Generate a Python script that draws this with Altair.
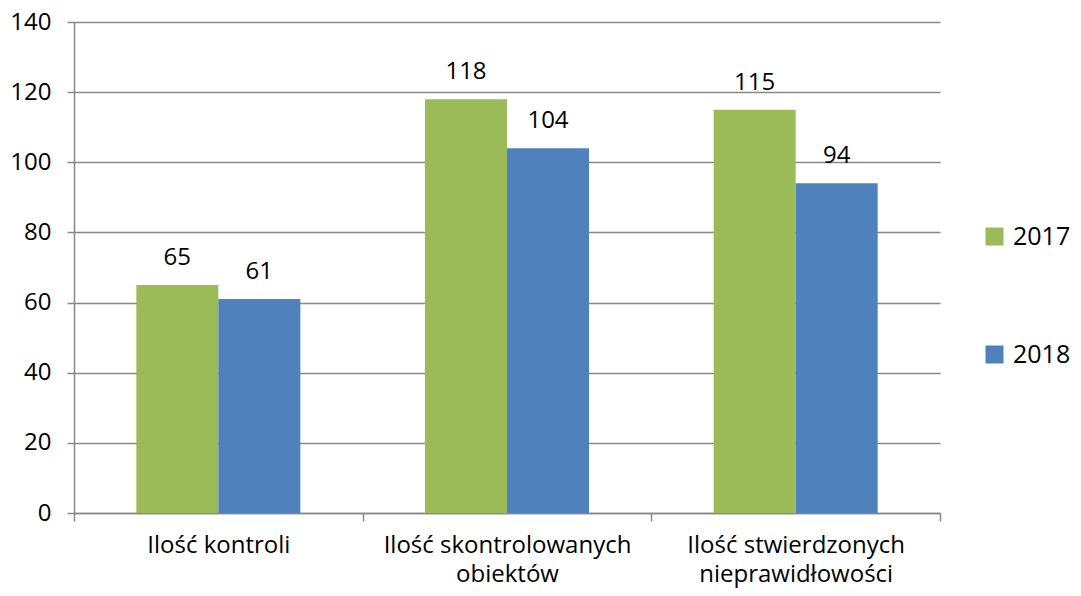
import altair as alt
import pandas as pd

categories = ["Ilość kontroli", "Ilość skontrolowanych obiektów", "Ilość stwierdzonych nieprawidłowości"]
label_lines = {
    "Ilość kontroli": ["Ilość kontroli"],
    "Ilość skontrolowanych obiektów": ["Ilość skontrolowanych", "obiektów"],
    "Ilość stwierdzonych nieprawidłowości": ["Ilość stwierdzonych", "nieprawidłowości"],
}
years = ["2017", "2018"]
values_2017 = [65, 118, 115]
values_2018 = [61, 104, 94]
colors = ["#9BBB59", "#4F81BD"]

rows = []
for c, a, b in zip(categories, values_2017, values_2018):
    rows.append({"cat": c, "year": "2017", "value": a})
    rows.append({"cat": c, "year": "2018", "value": b})
df = pd.DataFrame(rows)

label_expr = " : ".join(
    [f"datum.label == '{k}' ? {v!r}" for k, v in label_lines.items()]
) + " : datum.label"

FONT = "Open Sans"
GREY = "#888888"

x = alt.X("cat:N", sort=categories, title=None,
          scale=alt.Scale(paddingInner=0, paddingOuter=0),
          axis=alt.Axis(labelAngle=0, tickBand="extent", labelExpr=label_expr,
                        labelFontSize=24, labelLineHeight=29, labelPadding=12,
                        labelLimit=0, tickSize=8, tickColor=GREY, domainColor=GREY,
                        labelColor="black", labelFont=FONT, grid=False, labelBaseline="top",
                        domainWidth=1.5, tickWidth=1.5))
y = alt.Y("value:Q", title=None,
          scale=alt.Scale(domain=[0, 140], nice=False),
          axis=alt.Axis(values=list(range(0, 141, 20)), tickSize=7, labelPadding=16,
                        labelFontSize=24, labelFont=FONT, labelColor="black",
                        tickColor=GREY, domainColor=GREY,
                        gridColor=GREY, gridWidth=1.5, domainWidth=1.5, tickWidth=1.5))
xo = alt.XOffset("year:N", sort=years, scale=alt.Scale(paddingInner=0, paddingOuter=0.76))
color = alt.Color("year:N", sort=years, title=None,
                  scale=alt.Scale(domain=years, range=colors),
                  legend=alt.Legend(orient="none", legendX=908, legendY=202,
                                    symbolType="square", symbolSize=324,
                                    symbolStrokeWidth=0, rowPadding=92,
                                    labelFontSize=25, labelFont=FONT, labelColor="black",
                                    labelOffset=6, labelLimit=0))

bars = alt.Chart(df).mark_bar().encode(x=x, xOffset=xo, y=y, color=color)
texts = alt.Chart(df).mark_text(dy=-20, baseline="alphabetic", fontSize=24, font=FONT,
                                color="black").encode(
    x=alt.X("cat:N", sort=categories), xOffset=xo, y="value:Q", text="value:Q")

chart = alt.layer(bars, texts).properties(
    width=866, height=491,
    autosize=alt.AutoSizeParams(type="none"),
    padding={"left": 66, "top": 14, "right": 133, "bottom": 75},
).configure_view(stroke=None)

chart.save("out.html", embed_options={"renderer": "svg", "actions": False})
